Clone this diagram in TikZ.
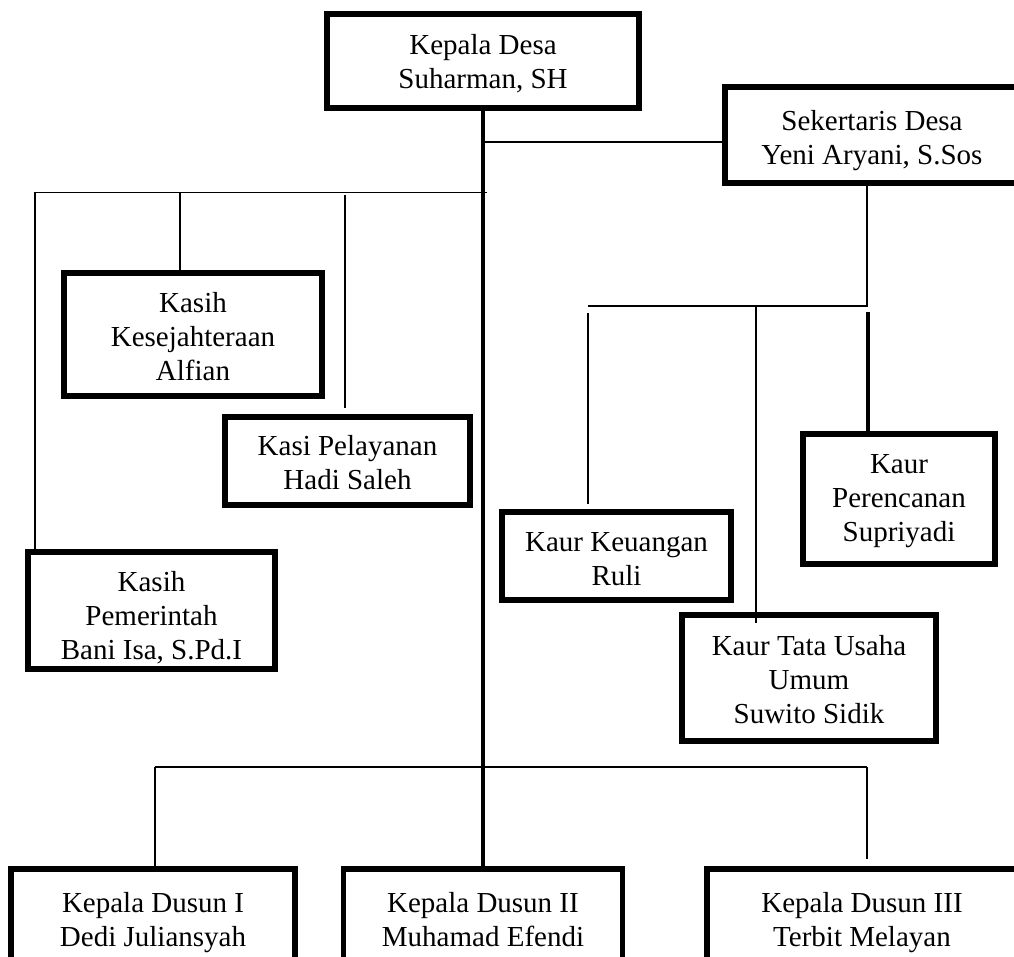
\documentclass[tikz,border=0pt]{standalone}
\usepackage{fontspec}
\setmainfont{Liberation Serif}
\newcommand\myTop[1]{\rule{0pt}{#1pt}}
\newcommand\myBot{\rule[-7pt]{0pt}{0pt}}
\begin{document}
\begin{tikzpicture}[x=1pt,y=-1pt,
  orgbox/.style={draw=black,line width=5.5pt,align=center,inner sep=0pt,
    font=\fontsize{29}{34}\selectfont},
  thinline/.style={line width=1.8pt},
  mainline/.style={line width=4.5pt},
  midline/.style={line width=2.5pt}]
\useasboundingbox (0,0) rectangle (1014,957);
\clip (0,0) rectangle (1014,957);
% boxes
\node[orgbox,minimum width=312pt,minimum height=94pt] (kd) at (483,61) {\myTop{29}Kepala Desa\\Suharman, SH\myBot};
\node[orgbox,minimum width=294pt,minimum height=96pt] (sek) at (872,135) {\myTop{33}Sekertaris Desa\\Yeni Aryani, S.Sos\myBot};
\node[orgbox,minimum width=258pt,minimum height=123pt] (kk) at (193,334.5) {\myTop{30}Kasih\\Kesejahteraan\\Alfian\myBot};
\node[orgbox,minimum width=245pt,minimum height=88pt] (kpl) at (347.5,461) {\myTop{29}Kasi Pelayanan\\Hadi Saleh\myBot};
\node[orgbox,minimum width=247pt,minimum height=117pt] (kp) at (151.5,610.5) {\myTop{37}Kasih\\Pemerintah\\Bani Isa, S.Pd.I\myBot};
\node[orgbox,minimum width=229pt,minimum height=88pt] (keu) at (616.5,556) {\myTop{32}Kaur Keuangan\\Ruli\myBot};
\node[orgbox,minimum width=254pt,minimum height=126pt] (tu) at (809,678) {\myTop{29}Kaur Tata Usaha\\Umum\\Suwito Sidik\myBot};
\node[orgbox,minimum width=192pt,minimum height=130pt] (per) at (899,499) {\myTop{23}Kaur\\Perencanan\\Supriyadi\myBot};
\node[orgbox,minimum width=284pt,minimum height=96pt] (d1) at (153,917) {\myTop{31}Kepala Dusun I\\Dedi Juliansyah\myBot};
\node[orgbox,minimum width=279pt,minimum height=96pt] (d2) at (483,917) {\myTop{31}Kepala Dusun II\\Muhamad Efendi\myBot};
\node[orgbox,minimum width=310pt,minimum height=96pt] (d3) at (862,917) {\myTop{31}Kepala Dusun III\\Terbit Melayan\myBot};
% junction coordinates
\coordinate (j1) at (483,142);
\coordinate (lbR) at (487,192.5);
\coordinate (lbL) at (35,192.5);
\coordinate (lb2) at (180,192.5);
\coordinate (lb3a) at (345,195);
\coordinate (lb3b) at (345,408);
\coordinate (rbR) at (867,306);
\coordinate (rbL) at (588,306);
\coordinate (rb1a) at (588,313);
\coordinate (rb1b) at (588,504);
\coordinate (rb2) at (756,306);
\coordinate (rb2b) at (756,623);
\coordinate (rb3) at (868,312);
\coordinate (bbL) at (155,767);
\coordinate (bbR) at (867,767);
\coordinate (bbRb) at (867,859);
% connectors
\draw[mainline] (kd.south) -- (d2.north);
\draw[thinline] (j1) -- (j1 -| sek.west);
\draw[thinline] (lbR) -- (lbL) -- (lbL |- kp.north);
\draw[thinline] (lb2) -- (lb2 |- kk.north);
\draw[thinline] (lb3a) -- (lb3b);
\draw[thinline] (sek.south -| rbR) -- (rbR) -- (rbL);
\draw[thinline] (rb1a) -- (rb1b);
\draw[thinline] (rb2) -- (rb2b);
\draw[mainline] (rb3) -- (rb3 |- per.north);
\draw[midline] (bbL) -- (bbR);
\draw[thinline] (bbL) -- (bbL |- d1.north);
\draw[thinline] (bbR) -- (bbRb);
\end{tikzpicture}
\end{document}
